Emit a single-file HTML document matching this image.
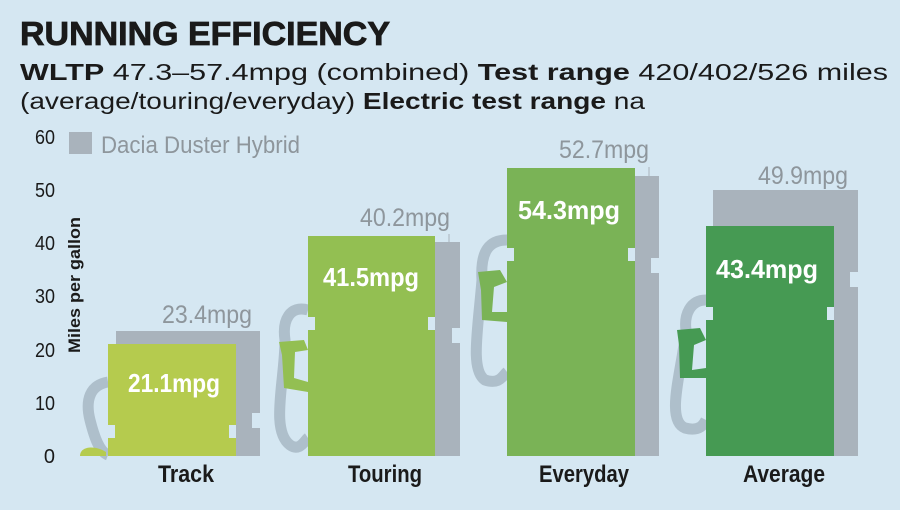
<!DOCTYPE html>
<html><head><meta charset="utf-8"><style>
html,body{margin:0;padding:0;background:#d5e7f2;}
svg{display:block}
</style></head><body>
<svg width="900" height="510" viewBox="0 0 900 510" xmlns="http://www.w3.org/2000/svg" font-family="Liberation Sans, sans-serif">
<rect width="900" height="510" fill="#d5e7f2"/>
<text x="20" y="45" font-size="33" font-weight="bold" fill="#1a1a1a" stroke="#1a1a1a" stroke-width="0.8" textLength="370" lengthAdjust="spacingAndGlyphs">RUNNING EFFICIENCY</text>
<text x="20" y="80" font-size="23" fill="#1a1a1a" textLength="868" lengthAdjust="spacingAndGlyphs"><tspan font-weight="bold">WLTP</tspan> 47.3–57.4mpg (combined) <tspan font-weight="bold">Test range</tspan> 420/402/526 miles</text>
<text x="20" y="109" font-size="23" fill="#1a1a1a" textLength="625" lengthAdjust="spacingAndGlyphs">(average/touring/everyday) <tspan font-weight="bold">Electric test range</tspan> na</text>

<!-- legend -->
<rect x="69" y="132" width="23" height="22" fill="#a9b3bc"/>
<text x="101" y="153" font-size="24" fill="#8e969c" textLength="199" lengthAdjust="spacingAndGlyphs">Dacia Duster Hybrid</text>

<!-- y axis -->
<g font-size="20" fill="#1a1a1a" text-anchor="end">
<text x="55" y="463">0</text><text x="55" y="410" textLength="20" lengthAdjust="spacingAndGlyphs">10</text><text x="55" y="357" textLength="20" lengthAdjust="spacingAndGlyphs">20</text>
<text x="55" y="303" textLength="20" lengthAdjust="spacingAndGlyphs">30</text><text x="55" y="250" textLength="20" lengthAdjust="spacingAndGlyphs">40</text><text x="55" y="197" textLength="20" lengthAdjust="spacingAndGlyphs">50</text><text x="55" y="144" textLength="20" lengthAdjust="spacingAndGlyphs">60</text>
</g>
<text transform="translate(80,353) rotate(-90)" font-size="17" font-weight="bold" fill="#1a1a1a" textLength="136" lengthAdjust="spacingAndGlyphs">Miles per gallon</text>

<!-- hoses -->
<g fill="none" stroke="#aebfcb" stroke-width="11">
<path d="M108,382 C90,385 85,400 90,420 C95,440 100,452 108,455"/>
<path d="M308,310 C290,305 282,320 285,340 C285,380 270,430 290,445 C300,452 305,440 308,438"/>
<path d="M507,240 C490,240 480,250 482,280 C478,330 470,370 485,380 C500,385 503,375 507,372"/>
<path d="M706,300 C690,300 684,315 686,330 C682,370 665,420 685,428 C700,432 704,424 706,420"/>
</g>
<!-- nozzles -->
<g fill="#b5cb4e"><path d="M80,456 C80,446 95,445 106,452 L106,456 Z"/></g>
<g fill="#93bf52"><path d="M279,342 L304,340 L308,350 L295,352 L294,378 L308,382 L308,392 L284,388 L282,355 Z"/></g>
<g fill="#7ab356"><path d="M478,272 L500,270 L507,282 L494,287 L492,312 L507,312 L507,322 L482,320 L481,290 Z"/></g>
<g fill="#469a53"><path d="M677,330 L700,328 L706,340 L694,345 L692,370 L706,368 L706,378 L680,378 L679,345 Z"/></g>

<!-- gray bars -->
<g fill="#a9b3bc">
<rect x="116" y="331" width="144" height="125"/>
<rect x="320" y="242" width="140" height="214"/>
<rect x="520" y="176" width="139" height="280"/>
<rect x="713" y="190" width="145" height="266"/>
</g>
<g fill="#d5e7f2">
<rect x="252" y="413" width="8" height="15"/>
<rect x="452" y="328" width="8" height="15"/>
<rect x="651" y="258" width="8" height="15"/>
<rect x="850" y="272" width="8" height="15"/>
</g>
<g stroke="#a9b3bc" stroke-width="1"><line x1="449" y1="234" x2="449" y2="242"/><line x1="649" y1="167" x2="649" y2="176"/></g>

<!-- green bars -->
<rect x="108" y="344" width="128" height="112" fill="#b5cb4e"/>
<rect x="308" y="236" width="127" height="220" fill="#93bf52"/>
<rect x="507" y="168" width="128" height="288" fill="#7ab356"/>
<rect x="706" y="226" width="128" height="230" fill="#469a53"/>
<g fill="#d5e7f2">
<rect x="108" y="425" width="7" height="13"/><rect x="229" y="425" width="7" height="13"/>
<rect x="308" y="317" width="7" height="13"/><rect x="428" y="317" width="7" height="13"/>
<rect x="507" y="248" width="7" height="13"/><rect x="628" y="248" width="7" height="13"/>
<rect x="706" y="307" width="7" height="13"/><rect x="827" y="307" width="7" height="13"/>
</g>

<!-- value labels -->
<g font-size="26" font-weight="bold" fill="#ffffff" text-anchor="middle">
<text x="174" y="392" textLength="92" lengthAdjust="spacingAndGlyphs">21.1mpg</text>
<text x="371" y="286" textLength="96" lengthAdjust="spacingAndGlyphs">41.5mpg</text>
<text x="569" y="219" textLength="102" lengthAdjust="spacingAndGlyphs">54.3mpg</text>
<text x="767" y="278" textLength="102" lengthAdjust="spacingAndGlyphs">43.4mpg</text>
</g>
<g font-size="25" fill="#8e969c" text-anchor="middle">
<text x="207" y="323" textLength="90" lengthAdjust="spacingAndGlyphs">23.4mpg</text>
<text x="405" y="226" textLength="90" lengthAdjust="spacingAndGlyphs">40.2mpg</text>
<text x="604" y="158" textLength="90" lengthAdjust="spacingAndGlyphs">52.7mpg</text>
<text x="803" y="184" textLength="90" lengthAdjust="spacingAndGlyphs">49.9mpg</text>
</g>

<!-- category labels -->
<g font-size="24" font-weight="bold" fill="#1a1a1a" text-anchor="middle">
<text x="186" y="482" textLength="56" lengthAdjust="spacingAndGlyphs">Track</text>
<text x="385" y="482" textLength="74" lengthAdjust="spacingAndGlyphs">Touring</text>
<text x="584" y="482" textLength="90" lengthAdjust="spacingAndGlyphs">Everyday</text>
<text x="784" y="482" textLength="82" lengthAdjust="spacingAndGlyphs">Average</text>
</g>
</svg>
</body></html>
